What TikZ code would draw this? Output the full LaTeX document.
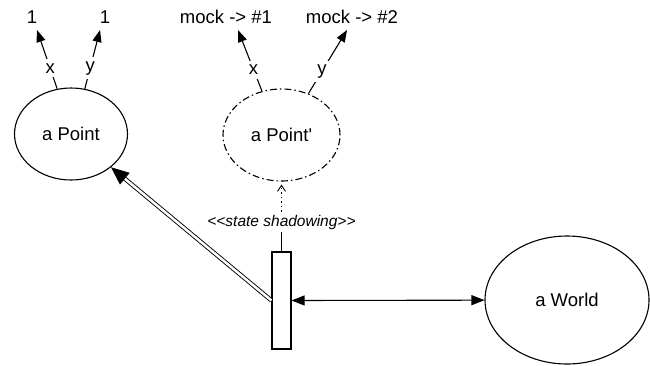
\documentclass[tikz,border=0pt]{standalone}
\usepackage{fontspec}
\newfontfamily\diagfont{Liberation Sans}
\usetikzlibrary{shapes.geometric,arrows.meta}

\begin{document}
\begin{tikzpicture}[x=1pt,y=-1pt,line width=1.1pt,
    font=\diagfont\fontsize{18.5}{20}\selectfont,
    obj/.style={ellipse,draw,inner sep=0pt},
    val/.style={anchor=base,inner sep=0pt},
    lbl/.style={fill=white,inner sep=4pt,pos=0.35},
    tip/.style={-{Triangle[length=12pt,width=9pt]}},
    ]
      \useasboundingbox (0,0) rectangle (650,365);

      \node at(71,134) [obj,minimum width=113pt,minimum height=92pt] (point) {a Point};
      \node at(281.5,135) [obj,dash pattern=on 7pt off 3pt on 1.5pt off 3pt,
            minimum width=117pt,minimum height=92pt] (shadowpoint) {a Point'};
      \node at(567,300) [obj,minimum width=164pt,minimum height=128pt] (world) {a World};
      \node at(281.5,300.5) [rectangle,draw,inner sep=0pt,
            minimum width=19pt,minimum height=97pt] (bar) {};

      % slot values
      \node at(32,23) [val] (pxval) {1};
      \node at(105,23) [val] (pyval) {1};
      \node at(226,23) [val] (sxval) {mock -> \#1};
      \node at(352,23) [val] (syval) {mock -> \#2};
      \coordinate (pxtip) at (37,30);
      \coordinate (pytip) at (100,30);
      \coordinate (sxtip) at (238,30);
      \coordinate (sytip) at (347,30);

      \draw[tip]
      (point.107)       -- node[lbl] {x} (pxtip);
      \draw[tip]
      (point.73)        -- node[lbl] {y} (pytip);
      \draw[tip]
      (shadowpoint.114) -- node[lbl] {x} (sxtip);
      \draw[tip]
      (shadowpoint.57)  -- node[lbl] {y} (sytip);

      % shadowing dependency
      \node at(281.5,222) [inner sep=2pt,font=\diagfont\itshape\fontsize{15.5}{17}\selectfont]
            (shadowing) {<<state shadowing>>};
      \draw (bar.north) -- (shadowing);
      \draw[line width=0.9pt,dash pattern=on 2pt off 3pt on 1pt off 3pt,
            -{Straight Barb[length=6pt,width=8pt]},shorten >=3pt]
      (shadowing) -- (shadowpoint);

      \draw[double,double distance=2.5pt,line width=0.9pt,
            -{Triangle[length=18pt,width=15pt]}]
      (bar.west) -- (point);
      \draw[{Triangle[length=13pt,width=10pt]}-{Triangle[length=13pt,width=10pt]}]
      (bar.east) -- (world);
\end{tikzpicture}
\end{document}
